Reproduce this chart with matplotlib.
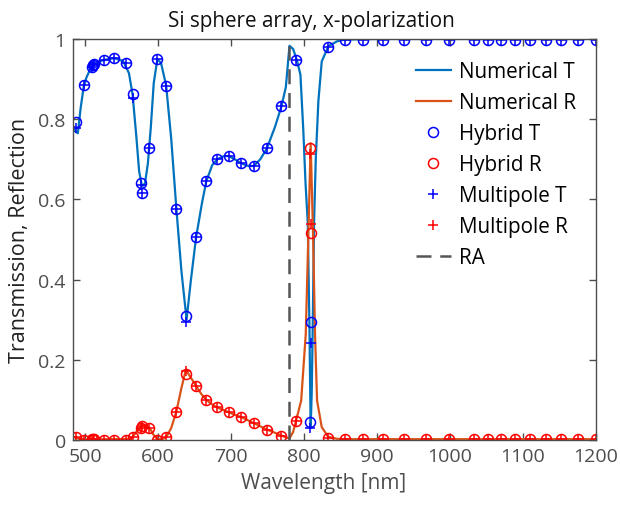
import numpy as np
import matplotlib
matplotlib.use('Agg')
import matplotlib.pyplot as plt

plt.rcParams['font.family'] = ['Open Sans', 'DejaVu Sans']

# numerical curves
lam_num = [483, 486, 490, 494, 498, 502, 508, 515, 526, 540, 552, 560, 565, 570,
           574, 578, 582, 586, 590, 594, 599, 604, 611, 618, 625, 632, 639, 645,
           652, 660, 666, 674, 681, 690, 697, 705, 714, 722, 731, 740, 749, 760,
           769, 775, 780, 785, 790, 795, 799, 802, 805, 807.3, 809, 810.5, 811.9,
           813.7, 816, 819.6, 824.2, 833.3, 845, 854, 870, 900, 1000, 1100, 1200]
T_num = [0.782, 0.770, 0.765, 0.830, 0.880, 0.905, 0.928, 0.940, 0.948, 0.952,
         0.945, 0.915, 0.862, 0.760, 0.670, 0.632, 0.640, 0.690, 0.780, 0.890,
         0.950, 0.940, 0.884, 0.750, 0.577, 0.420, 0.300, 0.400, 0.505, 0.590,
         0.645, 0.685, 0.700, 0.708, 0.708, 0.700, 0.690, 0.684, 0.683, 0.700,
         0.727, 0.780, 0.832, 0.880, 0.983, 0.975, 0.948, 0.911, 0.770, 0.640,
         0.543, 0.290, 0.030, 0.120, 0.290, 0.543, 0.700, 0.845, 0.944, 0.982,
         0.994, 0.998, 0.999, 1.000, 1.000, 1.000, 1.000]

lam_numR = [483, 490, 500, 510, 530, 560, 565, 570, 575, 578, 582, 588, 594, 599,
            605, 611, 618, 625, 632, 638, 645, 652, 659, 666, 673, 681, 689, 697,
            705, 714, 722, 731, 740, 749, 760, 769, 776, 780, 785, 789, 796, 802.3,
            805.9, 809, 812.3, 815, 817.8, 824.2, 833, 845, 860, 1000, 1200]
R_num = [0.008, 0.004, 0.001, 0.001, 0.002, 0.002, 0.007, 0.020, 0.030, 0.037,
         0.035, 0.031, 0.012, 0.002, 0.002, 0.007, 0.030, 0.071, 0.130, 0.175,
         0.155, 0.135, 0.115, 0.100, 0.090, 0.081, 0.075, 0.069, 0.063, 0.057,
         0.050, 0.042, 0.034, 0.026, 0.018, 0.011, 0.006, 0.004, 0.020, 0.048,
         0.098, 0.264, 0.513, 0.740, 0.513, 0.264, 0.098, 0.032, 0.008, 0.003,
         0.002, 0.002, 0.002]

# hybrid / multipole sample points
lam_mk = [487.7, 499, 510, 511.4, 512.7, 526, 540, 555.8, 565.3, 576.3, 578.5,
          588.1, 599, 611.4, 625.1, 638.4, 652.1, 665.8, 680.8, 696.8, 714.1,
          731.1, 748.9, 768.5, 789, 808.2, 809.6, 833, 855.6, 881.2, 908.6, 937,
          966.7, 999, 1032.9, 1051.6, 1070.3, 1089, 1109.6, 1131.1, 1152.5,
          1174.9, 1200]
hyb_T = [0.792, 0.884, 0.929, 0.934, 0.938, 0.948, 0.952, 0.940, 0.863, 0.641,
         0.617, 0.727, 0.950, 0.882, 0.575, 0.308, 0.505, 0.646, 0.700, 0.708,
         0.690, 0.683, 0.727, 0.832, 0.948, 0.044, 0.293, 0.980, 0.997, 0.998,
         0.998, 0.998, 0.998, 0.998, 0.998, 0.998, 0.998, 0.998, 0.998, 0.998,
         0.998, 0.998, 0.998]
mp_T = [0.778, 0.884, 0.929, 0.934, 0.938, 0.948, 0.952, 0.940, 0.853, 0.637,
        0.617, 0.727, 0.950, 0.882, 0.575, 0.295, 0.505, 0.646, 0.700, 0.708,
        0.690, 0.683, 0.727, 0.832, 0.948, 0.029, 0.243, 0.980, 0.997, 0.998,
        0.998, 0.998, 0.998, 0.998, 0.998, 0.998, 0.998, 0.998, 0.998, 0.998,
        0.998, 0.998, 0.998]
hyb_R = [0.008, 0.001, 0.002, 0.002, 0.002, 0.001, 0.001, 0.001, 0.007, 0.031,
         0.036, 0.031, 0.001, 0.007, 0.071, 0.164, 0.135, 0.100, 0.081, 0.069,
         0.058, 0.042, 0.026, 0.011, 0.048, 0.729, 0.515, 0.004, 0.002, 0.002,
         0.002, 0.002, 0.002, 0.002, 0.002, 0.002, 0.002, 0.002, 0.002, 0.002,
         0.002, 0.002, 0.002]
mp_R = [0.008, 0.001, 0.002, 0.002, 0.002, 0.001, 0.001, 0.001, 0.007, 0.031,
        0.036, 0.031, 0.001, 0.007, 0.071, 0.173, 0.135, 0.100, 0.081, 0.069,
        0.058, 0.042, 0.026, 0.011, 0.048, 0.714, 0.539, 0.004, 0.002, 0.002,
        0.002, 0.002, 0.002, 0.002, 0.002, 0.002, 0.002, 0.002, 0.002, 0.002,
        0.002, 0.002, 0.002]

lam_RA = 780
RA_top = 0.983

gray = '#4d4d4d'
fig = plt.figure(figsize=(6.2, 5.06), dpi=100)
ax = fig.add_axes([0.1173, 0.1285, 0.844, 0.7925])

ax.plot(lam_num, T_num, color='#0072BD', lw=1.6, label='Numerical T')
ax.plot(lam_numR, R_num, color='#D95319', lw=1.6, label='Numerical R')
ax.plot(lam_mk, hyb_T, 'o', mfc='none', mec='b', ms=7.2, mew=1.1, label='Hybrid T')
ax.plot(lam_mk, hyb_R, 'o', mfc='none', mec='r', ms=7.2, mew=1.1, label='Hybrid R')
ax.plot(lam_mk, mp_T, '+', color='b', ms=7.2, mew=1.1, label='Multipole T')
ax.plot(lam_mk, mp_R, '+', color='r', ms=7.2, mew=1.1, label='Multipole R')
ax.plot([lam_RA, lam_RA], [0, RA_top], '--', color='#555555', lw=1.8,
        dashes=(6, 3.5), label='RA')

ax.set_xlim(483, 1200)
ax.set_ylim(0, 1)
ax.set_xticks(range(500, 1201, 100))
ax.set_yticks([0, 0.2, 0.4, 0.6, 0.8, 1])
ax.set_yticklabels(['0', '0.2', '0.4', '0.6', '0.8', '1'])
ax.tick_params(direction='in', top=True, right=True, length=5, width=1,
               colors=gray, labelsize=14, pad=5)
for sp in ax.spines.values():
    sp.set_color(gray)
    sp.set_linewidth(1)

ax.set_xlabel('Wavelength [nm]', fontsize=15, color=gray, labelpad=5, x=0.48)
ax.set_ylabel('Transmission, Reflection', fontsize=15.5, color='#222222', labelpad=6)
ax.set_title('Si sphere array, x-polarization', fontsize=14.9, color='#111111',
             pad=9, x=0.457)

ax.legend(loc='upper left', bbox_to_anchor=(0.64, 0.965), frameon=False,
          fontsize=14.9, handlelength=1.7, labelspacing=0.48, handletextpad=0.4,
          borderaxespad=0)

fig.savefig('out.png', dpi=100)
